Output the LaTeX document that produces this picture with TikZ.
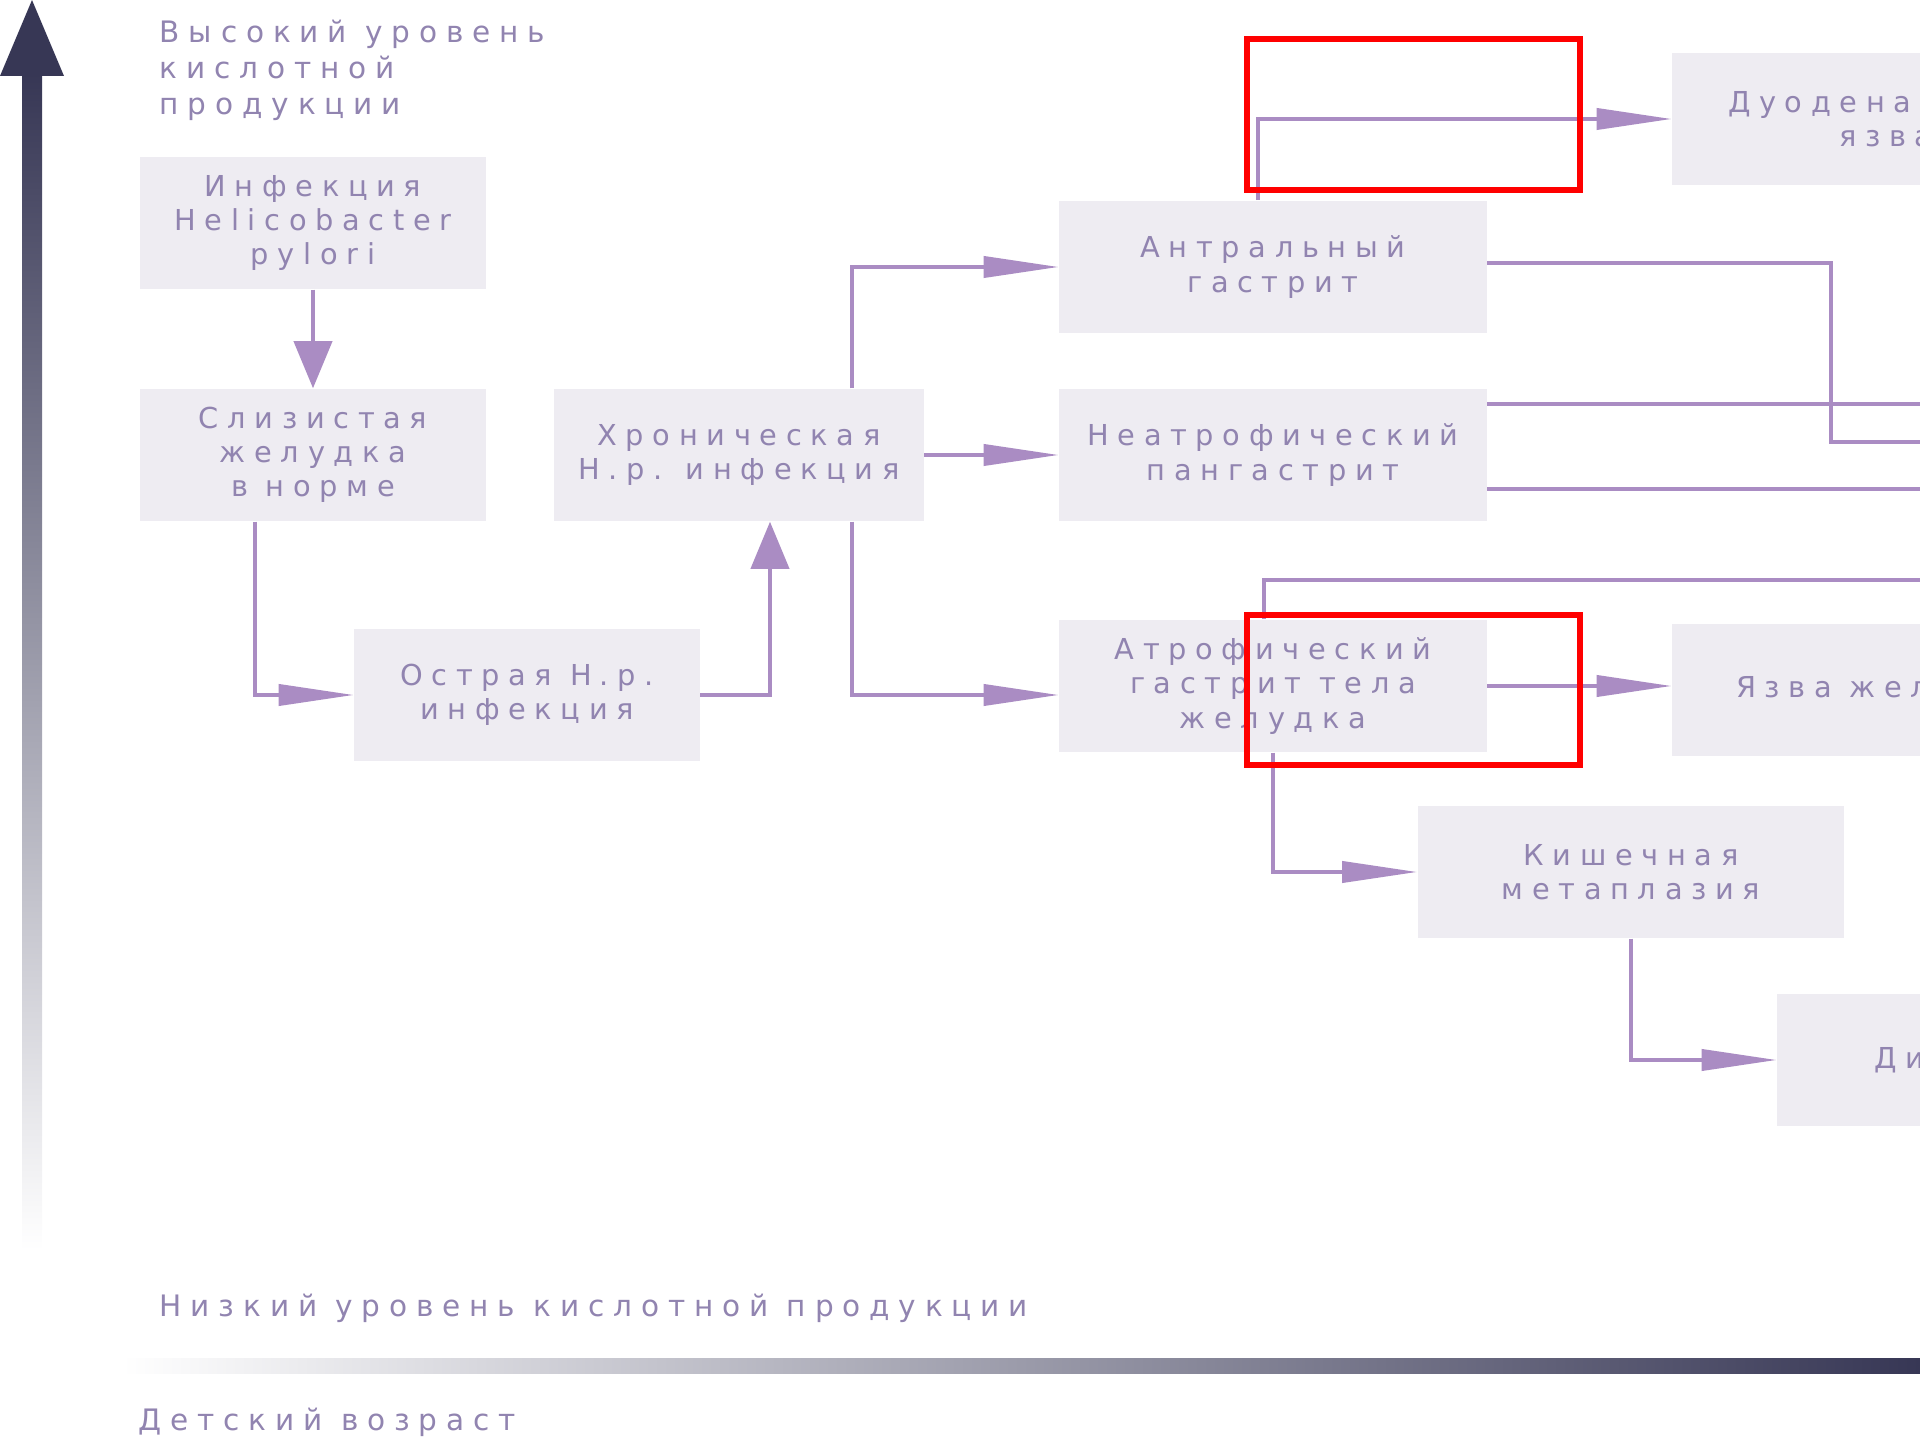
\documentclass[tikz,border=0pt]{standalone}
\usepackage{fontspec}
\setmainfont[LetterSpace=30]{DejaVu Sans}
\usepackage{tikz}
\usetikzlibrary{arrows.meta,calc}

\definecolor{boxfill}{RGB}{238,236,242}
\definecolor{inktext}{RGB}{145,132,176}
\definecolor{inkline}{RGB}{170,140,195}
\definecolor{axisdark}{RGB}{55,55,85}

\tikzset{
	box/.style={rectangle, fill=boxfill, text=inktext, align=center, inner sep=0pt, minimum height=1.32cm, font=\fontsize{8.2}{9.7}\selectfont},
	note/.style={text=inktext, align=left, inner sep=0pt, anchor=west, font=\fontsize{8.4}{10.2}\selectfont},
	wire/.style={draw=inkline, line width=1.1pt},
	link/.style={wire, -{Triangle[length=7.5mm,width=2.1mm]}},
	uplink/.style={wire, -{Triangle[length=4.7mm,width=3.8mm]}},
	redframe/.style={draw=red, line width=1.6pt}
}

\begin{document}
\begin{tikzpicture}[x=0.01cm, y=-0.01cm]
	\useasboundingbox (0,0) rectangle (1920,1440);

	\shade[top color=axisdark, middle color=axisdark!75, bottom color=white] (22,74) rectangle (42,1250);
	\fill[axisdark] (32,0) -- (64,76) -- (0,76) -- cycle;
	\shade[left color=white, right color=axisdark] (122,1359) rectangle (1920,1374);

	\node[note] (high)  at (159, 70)   {Высокий уровень\\кислотной\\продукции};
	\node[note] (low)   at (159, 1308) {Низкий уровень кислотной продукции};
	\node[note] (child) at (138, 1422) {Детский возраст};

	\node[box, minimum width=3.45cm] (hp)    at (313, 223)   {Инфекция\\Helicobacter\\pylori};
	\node[box, minimum width=3.45cm] (norm)  at (313, 455)   {Слизистая\\желудка\\в норме};
	\node[box, minimum width=3.45cm] (acute) at (527, 695)   {Острая H.p.\\инфекция};
	\node[box, minimum width=3.69cm] (chron) at (739, 455)   {Хроническая\\H.p. инфекция};
	\node[box, minimum width=4.27cm] (antr)  at (1273, 267)  {Антральный\\гастрит};
	\node[box, minimum width=4.27cm] (pang)  at (1273, 455)  {Неатрофический\\пангастрит};
	\node[box, minimum width=4.27cm] (atro)  at (1273, 686)  {Атрофический\\гастрит тела\\желудка};
	\node[box, minimum width=4.27cm] (duod)  at (1886, 119)  {Дуоденальная\\язва};
	\node[box, minimum width=4.27cm] (ulc)   at (1886, 690)  {Язва желудка};
	\node[box, minimum width=4.26cm] (meta)  at (1631, 872)  {Кишечная\\метаплазия};
	\node[box, minimum width=4.27cm] (dysp)  at (1991, 1060) {Дисплазия};

	\coordinate (bend) at (1831, 442);
	\coordinate (offa) at (1960, 442);
	\coordinate (offc) at (1960, 580);

	\draw[uplink] (hp) -- (norm);
	\draw[link] ($(norm.south)+(-58,0)$) |- (acute.west);
	\draw[uplink] (acute.east) -| ($(chron.south)+(31,0)$);
	\draw[link] ($(chron.north)+(113,0)$) |- (antr.west);
	\draw[link] (chron) -- (pang);
	\draw[link] ($(chron.south)+(113,0)$) |- ($(atro.west)+(0,9)$);
	\draw[link] ($(antr.north)+(-15,0)$) |- (duod.west);
	\draw[link] (atro.east) -- (atro.east -| ulc.west);
	\draw[link] (atro.south) |- (meta.west);
	\draw[link] (meta.south) |- (dysp.west);

	\draw[wire] ($(antr.east)+(0,-4)$) -| (bend) -- (offa);
	\draw[wire] ($(pang.east)+(0,-51)$) -- ++(480,0);
	\draw[wire] ($(pang.east)+(0,34)$) -- ++(480,0);
	\draw[wire] ($(atro.north)+(-9,0)$) |- (offc);

	\draw[redframe] (1247,39) rectangle (1580,190);
	\draw[redframe] (1247,615) rectangle (1580,765);
\end{tikzpicture}
\end{document}
